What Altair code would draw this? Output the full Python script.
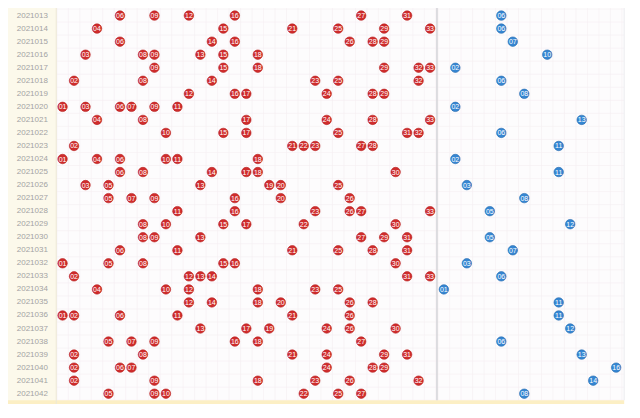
import altair as alt
import pandas as pd

periods = ["2021013", "2021014", "2021015", "2021016", "2021017", "2021018",
           "2021019", "2021020", "2021021", "2021022", "2021023", "2021024",
           "2021025", "2021026", "2021027", "2021028", "2021029", "2021030",
           "2021031", "2021032", "2021033", "2021034", "2021035", "2021036",
           "2021037", "2021038", "2021039", "2021040", "2021041", "2021042"]

red = [
    [6, 9, 12, 16, 27, 31],
    [4, 15, 21, 25, 29, 33],
    [6, 14, 16, 26, 28, 29],
    [3, 8, 9, 13, 15, 18],
    [9, 15, 18, 29, 32, 33],
    [2, 8, 14, 23, 25, 32],
    [12, 16, 17, 24, 28, 29],
    [1, 3, 6, 7, 9, 11],
    [4, 8, 17, 24, 28, 33],
    [10, 15, 17, 25, 31, 32],
    [2, 21, 22, 23, 27, 28],
    [1, 4, 6, 10, 11, 18],
    [6, 8, 14, 17, 18, 30],
    [3, 5, 13, 19, 20, 25],
    [5, 7, 9, 16, 20, 26],
    [11, 16, 23, 26, 27, 33],
    [8, 10, 15, 17, 22, 30],
    [8, 9, 13, 27, 29, 31],
    [6, 11, 21, 25, 28, 31],
    [1, 5, 8, 15, 16, 30],
    [2, 12, 13, 14, 31, 33],
    [4, 10, 12, 18, 23, 25],
    [12, 14, 18, 20, 26, 28],
    [1, 2, 6, 11, 21, 26],
    [13, 17, 19, 24, 26, 30],
    [5, 7, 9, 16, 18, 27],
    [2, 8, 21, 24, 29, 31],
    [2, 6, 7, 24, 28, 29],
    [2, 9, 18, 23, 26, 32],
    [5, 9, 10, 22, 25, 27],
]

blue = [6, 6, 7, 10, 2, 6, 8, 2, 13, 6, 11, 2, 11, 3, 8, 5, 12, 5, 7, 3,
        6, 1, 11, 11, 12, 6, 13, 16, 14, 8]

RED_COUNT = 33
BLUE_COUNT = 16
BLUE_OFFSET = 33.2  # column position of the blue zone

W, H = 624, 396
X0, X1 = -3.75, 50.58
Y0, Y1 = -0.581, 29.79
LEFT_END, RIGHT_END, DIV, BOTTOM = 0.45, 49.9, 33.6, 29.5

# ---- tables built from the arrays ----
red_df = pd.DataFrame([
    {"row": i, "period": p, "n": n, "label": f"{n:02d}"}
    for i, (p, nums) in enumerate(zip(periods, red)) for n in nums
])
blue_df = pd.DataFrame([
    {"row": i, "period": p, "n": b, "label": f"{b:02d}"}
    for i, (p, b) in enumerate(zip(periods, blue))
])
per_df = pd.DataFrame({"row": list(range(len(periods))), "period": periods,
                       "lx": [-1.63] * len(periods)})

vgrid = pd.DataFrame({"c": [k + 0.5 for k in range(RED_COUNT + 1)] +
                      [BLUE_OFFSET + k + 0.5 for k in range(BLUE_COUNT + 1)],
                      "y": Y0, "y2": BOTTOM})
hgrid = pd.DataFrame({"r": [k - 0.5 for k in range(len(periods) + 1)],
                      "x": LEFT_END, "x2": RIGHT_END})

rects = pd.DataFrame([
    {"x": LEFT_END, "x2": RIGHT_END, "y": Y0, "y2": Y1, "col": "#fdfcfd"},
])
rects2 = pd.DataFrame([
    {"x": X0, "x2": LEFT_END, "y": Y0, "y2": Y1, "col": "#fcf9eb"},
    {"x": X0, "x2": RIGHT_END, "y": BOTTOM, "y2": Y1, "col": "#fcefc4"},
])
lines = pd.DataFrame([
    {"x": LEFT_END, "y": Y0, "y2": Y1, "col": "#ede8d6", "w": 1.0},
    {"x": DIV, "y": Y0, "y2": BOTTOM, "col": "#d4d4d8", "w": 1.5},
    {"x": RIGHT_END, "y": Y0, "y2": BOTTOM, "col": "#ececf0", "w": 1.0},
])

xs = alt.Scale(domain=[X0, X1], nice=False, zero=False)
ys = alt.Scale(domain=[Y0, Y1], nice=False, zero=False, reverse=True)

bg = alt.Chart(rects).mark_rect().encode(
    x=alt.X("x:Q", scale=xs, axis=None), x2="x2:Q",
    y=alt.Y("y:Q", scale=ys, axis=None), y2="y2:Q",
    color=alt.Color("col:N", scale=None))

GRID = "#f5eff2"
vg = alt.Chart(vgrid).mark_rule(color=GRID, strokeWidth=0.6).encode(
    x=alt.X("c:Q", scale=xs, axis=None),
    y=alt.Y("y:Q", scale=ys, axis=None), y2="y2:Q")
hg = alt.Chart(hgrid).mark_rule(color=GRID, strokeWidth=0.6).encode(
    y=alt.Y("r:Q", scale=ys, axis=None),
    x=alt.X("x:Q", scale=xs, axis=None), x2="x2:Q")

bg2 = alt.Chart(rects2).mark_rect().encode(
    x=alt.X("x:Q", scale=xs, axis=None), x2="x2:Q",
    y=alt.Y("y:Q", scale=ys, axis=None), y2="y2:Q",
    color=alt.Color("col:N", scale=None))

ln = alt.Chart(lines).mark_rule().encode(
    x=alt.X("x:Q", scale=xs, axis=None),
    y=alt.Y("y:Q", scale=ys, axis=None), y2="y2:Q",
    color=alt.Color("col:N", scale=None),
    strokeWidth=alt.StrokeWidth("w:Q", scale=None))

plabels = alt.Chart(per_df).mark_text(
    color="#a3a3a3", fontSize=8, font="Liberation Sans", align="center", baseline="middle"
).encode(x=alt.X("lx:Q", scale=xs, axis=None), y=alt.Y("row:Q", scale=ys, axis=None),
         text="period:N")

BALL = 90
red_c = alt.Chart(red_df).mark_circle(size=BALL, opacity=1, color="#cf2c2c",
                                       stroke="#b51f1f", strokeWidth=0.6).encode(
    x=alt.X("n:Q", scale=xs, axis=None), y=alt.Y("row:Q", scale=ys, axis=None))
red_t = alt.Chart(red_df).mark_text(color="white", fontSize=7, font="Liberation Sans",
                                    baseline="middle", align="center", dy=0.5).encode(
    x=alt.X("n:Q", scale=xs, axis=None), y=alt.Y("row:Q", scale=ys, axis=None),
    text="label:N")

blue_base = alt.Chart(blue_df).transform_calculate(pos=f"datum.n + {BLUE_OFFSET}")
blue_c = blue_base.mark_circle(size=BALL, opacity=1, color="#3586d2",
                               stroke="#2568ad", strokeWidth=0.6).encode(
    x=alt.X("pos:Q", scale=xs, axis=None), y=alt.Y("row:Q", scale=ys, axis=None))
blue_t = blue_base.mark_text(color="white", fontSize=7, font="Liberation Sans",
                             baseline="middle", align="center", dy=0.5).encode(
    x=alt.X("pos:Q", scale=xs, axis=None), y=alt.Y("row:Q", scale=ys, axis=None),
    text="label:N")

chart = alt.layer(bg, vg, hg, bg2, ln, plabels, red_c, red_t, blue_c, blue_t).properties(
    width=W, height=H, padding=0, background="white",
    autosize=alt.AutoSizeParams(type="none")
).configure_view(stroke=None)

chart.save("out.html", embed_options={"renderer": "svg", "actions": False})
